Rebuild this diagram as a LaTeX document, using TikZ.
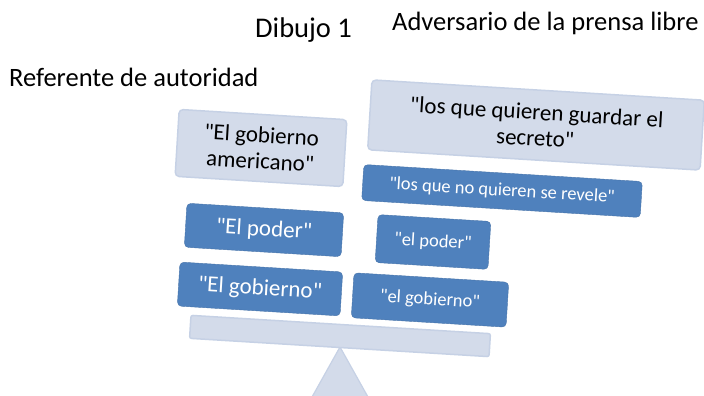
\documentclass[tikz,border=0pt]{standalone}
\usepackage{fontspec}
\setmainfont{Carlito}[Ligatures=TeXOff]
\definecolor{darkbox}{HTML}{4F81BD}
\definecolor{lightfill}{HTML}{D3DBEA}
\definecolor{lightedge}{HTML}{C6D1E5}
\begin{document}
\begin{tikzpicture}[x=1pt,y=1pt,
  darkstyle/.style={rectangle, rounded corners=4pt, fill=darkbox, draw=darkbox!90!black, line width=0.4pt, text=white, align=center, rotate=-3.5, inner sep=0pt},
  lightstyle/.style={rectangle, rounded corners=4pt, fill=lightfill, draw=lightedge, line width=1.5pt, text=black, align=center, rotate=-3.5, inner sep=0pt},
  titlestyle/.style={text=black, inner sep=0pt, anchor=base west, font=\fontsize{26.5}{30}\selectfont},
  bigtext/.style={font=\fontsize{23}{26}\selectfont},
  smalltext/.style={font=\fontsize{18.5}{21}\selectfont}
]
\useasboundingbox (0,0) rectangle (704,396);
\clip (0,0) rectangle (704,396);
\fill[white] (0,0) rectangle (704,396);
% titles
\node[titlestyle, font=\fontsize{28.5}{32}\selectfont] (dib) at (255,358) {Dibujo 1};
\node[titlestyle] (adv) at (392,365) {Adversario de la prensa libre};
\node[titlestyle] (ref) at (9,309) {Referente de autoridad};
% fulcrum
\path[fill=lightfill, draw=lightedge, line width=1.2pt] (340,49) -- (373,-10) -- (307,-10) -- cycle;
\coordinate (apex) at (340,49);
% beam
\node[lightstyle, rounded corners=2pt, minimum width=300pt, minimum height=23pt] (beam) at (340,60) {};
% left boxes
\node[lightstyle, minimum width=168pt, minimum height=67pt, bigtext] (l1) at (261,248) {"El gobierno\\americano"};
\node[darkstyle, minimum width=157pt, minimum height=44pt, bigtext] (l2) at (264,166) {"El poder"};
\node[darkstyle, minimum width=163pt, minimum height=44pt, bigtext] (l3) at (260,107) {"El gobierno"};
% right boxes
\node[lightstyle, minimum width=333pt, minimum height=70pt, bigtext] (r1) at (536,271) {"los que quieren guardar el\\secreto"};
\node[darkstyle, minimum width=279pt, minimum height=36pt, smalltext] (r2) at (502,205) {"los que no quieren se revele"};
\node[darkstyle, minimum width=113pt, minimum height=48pt, smalltext] (r3) at (433,154) {"el poder"};
\node[darkstyle, minimum width=155pt, minimum height=45pt, smalltext] (r4) at (430,96) {"el gobierno"};
\end{tikzpicture}
\end{document}
